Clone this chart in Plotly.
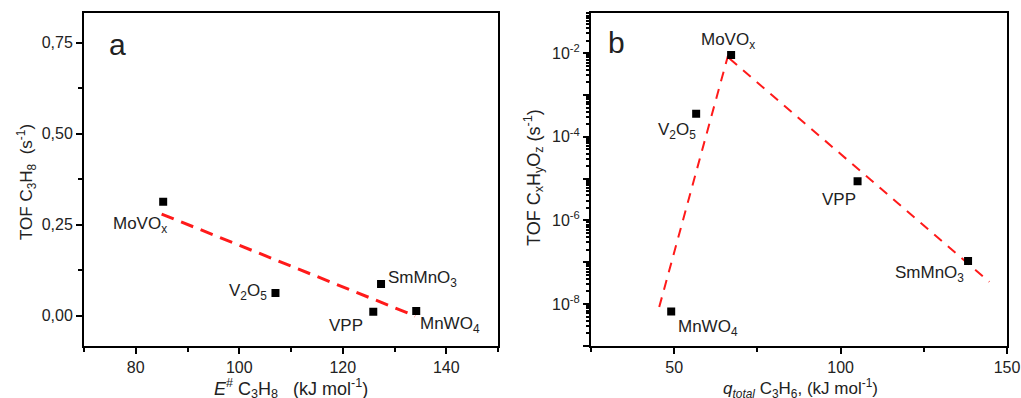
import math
import plotly.graph_objects as go

# ---- data, panel a ----
a_names = ["MoVO<sub>x</sub>", "V<sub>2</sub>O<sub>5</sub>", "SmMnO<sub>3</sub>", "VPP", "MnWO<sub>4</sub>"]
a_E = [85.3, 107.0, 127.4, 125.9, 134.2]
a_tof = [0.313, 0.062, 0.087, 0.011, 0.013]
a_fit_x = [85.0, 134.0]
a_fit_y = [0.279, -0.001]

# ---- data, panel b ----
b_names = ["MoVO<sub>x</sub>", "V<sub>2</sub>O<sub>5</sub>", "VPP", "SmMnO<sub>3</sub>", "MnWO<sub>4</sub>"]
b_q = [67.1, 56.6, 105.1, 138.3, 49.1]
b_tof = [9.1e-3, 3.6e-4, 8.7e-6, 1.07e-7, 6.6e-9]
b_fit1_x = [45.5, 66.2]
b_fit1_y = [8.5e-9, 9.0e-3]
b_fit2_x = [66.6, 144.7]
b_fit2_y = [7.5e-3, 3.4e-8]

b_ytick_exp = list(range(-9, 0))

FONT = "Liberation Sans, Arial, sans-serif"
RED = "#ff1a1a"
NB = "\u00a0"

fig = go.Figure()

fig.add_trace(go.Scatter(x=a_fit_x, y=a_fit_y, mode="lines",
                         line=dict(color=RED, width=3, dash="13px,8px"),
                         xaxis="x", yaxis="y", showlegend=False))
fig.add_trace(go.Scatter(x=a_E, y=a_tof, mode="markers",
                         marker=dict(symbol="square", size=8, color="black"),
                         xaxis="x", yaxis="y", showlegend=False))

fig.add_trace(go.Scatter(x=b_fit1_x, y=b_fit1_y, mode="lines",
                         line=dict(color=RED, width=2, dash="10px,8px"),
                         xaxis="x2", yaxis="y2", showlegend=False))
fig.add_trace(go.Scatter(x=b_fit2_x, y=b_fit2_y, mode="lines",
                         line=dict(color=RED, width=2, dash="10px,8px"),
                         xaxis="x2", yaxis="y2", showlegend=False))
fig.add_trace(go.Scatter(x=b_q, y=b_tof, mode="markers",
                         marker=dict(symbol="square", size=8, color="black"),
                         xaxis="x2", yaxis="y2", showlegend=False))

axis_common = dict(showline=True, linecolor="black", linewidth=2, mirror=True,
                   ticks="outside", ticklen=6, tickwidth=2, tickcolor="black",
                   showgrid=False, zeroline=False, automargin=False,
                   tickfont=dict(family=FONT, size=16, color="#222"))

ydom = [0.131, 0.968]
fig.update_layout(
    width=1021, height=398,
    margin=dict(l=0, r=0, t=0, b=0),
    paper_bgcolor="white", plot_bgcolor="white",
    separators=", ",
    font=dict(family=FONT, color="#222"),
    xaxis=dict(domain=[84/1021, 498/1021], range=[70, 150], dtick=20, tick0=0,
               minor=dict(dtick=10, ticklen=4, tickwidth=2, tickcolor="black", ticks="outside"),
               anchor="y", **axis_common),
    yaxis=dict(domain=ydom, range=[-0.083, 0.832], dtick=0.25, tick0=0, tickformat=".2f",
               minor=dict(dtick=0.125, ticklen=4, tickwidth=2, tickcolor="black", ticks="outside"),
               anchor="x", **axis_common),
    xaxis2=dict(domain=[591/1021, 1007/1021], range=[25, 150], dtick=50, tick0=0,
                minor=dict(dtick=25, ticklen=4, tickwidth=2, tickcolor="black", ticks="outside"),
                anchor="y2", **axis_common),
    yaxis2=dict(domain=ydom, type="log", range=[-9.0, -1.03],
                tickmode="array",
                tickvals=[10.0 ** k for k in b_ytick_exp],
                ticktext=[("10<sup>%d</sup>" % k) if k % 2 == 0 else "" for k in b_ytick_exp],
                minor=dict(dtick="D1", ticklen=3, tickwidth=1.5, tickcolor="black", ticks="outside"),
                anchor="x2", **axis_common),
)

ann = []
lab_font = dict(family=FONT, size=17, color="#222")

# panel a point labels: (xanchor, xshift, yshift)
a_place = [("right", 6, -23), ("right", -6, 1), ("left", 5, 5), ("right", -8, -14), ("left", 2, -14)]
for n, x, y, (xa, dx, dy) in zip(a_names, a_E, a_tof, a_place):
    ann.append(dict(x=x, y=y, xref="x", yref="y", text=n, showarrow=False,
                    xanchor=xa, yanchor="middle", xshift=dx, yshift=dy, font=lab_font))

b_place = [("center", -3, 14), ("right", 2, -17), ("right", 0, -18), ("right", -2, -13), ("left", 5, -16)]
for n, x, y, (xa, dx, dy) in zip(b_names, b_q, b_tof, b_place):
    ann.append(dict(x=x, y=math.log10(y), xref="x2", yref="y2", text=n, showarrow=False,
                    xanchor=xa, yanchor="middle", xshift=dx, yshift=dy, font=lab_font))

title_font = dict(family=FONT, size=17, color="#222")
ann += [
    dict(x=26/1021, y=1-182/398, xref="paper", yref="paper", showarrow=False, textangle=-90,
         text="TOF C<sub>3</sub>H<sub>8</sub>" + NB + NB + "(s<sup>-1</sup>)", font=title_font,
         xanchor="center", yanchor="middle"),
    dict(x=291/1021, y=1-388/398, xref="paper", yref="paper", showarrow=False,
         text="<i>E</i><sup>#</sup>" + NB + "C<sub>3</sub>H<sub>8</sub>" + NB + NB + NB + "(kJ mol<sup>-1</sup>)",
         font=dict(family=FONT, size=18, color="#222"),
         xanchor="center", yanchor="middle"),
    dict(x=533/1021, y=1-178/398, xref="paper", yref="paper", showarrow=False, textangle=-90,
         text="TOF C<sub>x</sub>H<sub>y</sub>O<sub>z</sub> (s<sup>-1</sup>)",
         font=dict(family=FONT, size=18, color="#222"),
         xanchor="center", yanchor="middle"),
    dict(x=800/1021, y=1-388/398, xref="paper", yref="paper", showarrow=False,
         text="<i>q<sub>total</sub></i> C<sub>3</sub>H<sub>6</sub>, (kJ mol<sup>-1</sup>)", font=title_font,
         xanchor="center", yanchor="middle"),
    dict(x=117/1021, y=1-44/398, xref="paper", yref="paper", showarrow=False, text="a",
         font=dict(family=FONT, size=30, color="#222"), xanchor="center", yanchor="middle"),
    dict(x=616/1021, y=1-42/398, xref="paper", yref="paper", showarrow=False, text="b",
         font=dict(family=FONT, size=30, color="#222"), xanchor="center", yanchor="middle"),
]
fig.update_layout(annotations=ann)

fig.write_html("out.html")
